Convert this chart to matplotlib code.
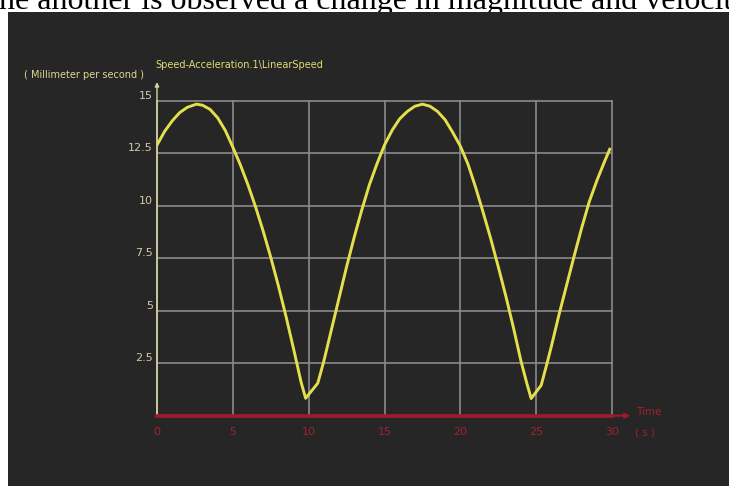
import matplotlib
matplotlib.use("Agg")
import matplotlib.pyplot as plt
from matplotlib.patches import Rectangle
from matplotlib.transforms import ScaledTranslation

# ---- data ----
time_s = [0.0, 0.5, 1.0, 1.5, 2.0, 2.6, 3.0, 3.5, 4.0, 4.5, 5.0, 5.5, 6.0, 6.5,
          7.0, 7.5, 8.0, 8.5, 9.0, 9.5, 9.8, 10.6, 11.0, 11.5, 12.0, 12.5,
          13.0, 13.5, 14.0, 14.5, 15.0, 15.5, 16.0, 16.5, 17.0, 17.5, 18.0,
          18.5, 19.0, 19.5, 20.0, 20.5, 21.0, 21.5, 22.0, 22.5, 23.0, 23.5,
          24.0, 24.4, 24.67, 25.33, 25.7, 26.0, 26.5, 27.0, 27.5, 28.0, 28.5,
          29.0, 29.5, 29.85]
speed_mm_s = [12.9, 13.55, 14.05, 14.45, 14.7, 14.85, 14.8, 14.6, 14.2, 13.6,
              12.8, 11.95, 11.0, 9.95, 8.8, 7.55, 6.2, 4.75, 3.2, 1.6, 0.83,
              1.55, 2.6, 4.1, 5.6, 7.1, 8.5, 9.8, 11.0, 12.0, 12.9, 13.6, 14.15,
              14.5, 14.75, 14.85, 14.75, 14.5, 14.1, 13.5, 12.85, 12.0, 10.9,
              9.7, 8.45, 7.1, 5.7, 4.2, 2.6, 1.5, 0.82, 1.45, 2.45, 3.3, 4.8,
              6.2, 7.6, 8.95, 10.2, 11.2, 12.1, 12.7]
x_ticks = [0, 5, 10, 15, 20, 25, 30]
x_tick_labels = ["0", "5", "10", "15", "20", "25", "30"]
y_ticks = [2.5, 5, 7.5, 10, 12.5, 15]
y_tick_labels = ["2.5", "5", "7.5", "10", "12.5", "15"]
title_text = "Speed-Acceleration.1\\LinearSpeed"
y_label = "( Millimeter per second )"
x_label = "Time"
x_unit = "( s )"
caption = "ne another is observed a change in magnitude and velocit"

W, H = 729, 486
DARK = "#262626"
fig = plt.figure(figsize=(W / 100, H / 100), dpi=100, facecolor="white")

# dark panel of the screenshot
fig.patches.append(Rectangle((8 / W, 0), 1 - 8 / W, 1 - 12 / H,
                             transform=fig.transFigure, facecolor=DARK,
                             edgecolor="none", zorder=-10))

# clipped caption text above the panel (drawn under the panel)
fig.text(-1 / W, 1 - 9.5 / H, caption, family="Liberation Serif",
         fontsize=23, color="black", ha="left", va="baseline", zorder=-20)

x0, x1 = 157, 612
y0, y1 = 415.7, 101
ax = fig.add_axes([x0 / W, 1 - y0 / H, (x1 - x0) / W, (y0 - y1) / H])
ax.set_zorder(1)
ax.set_facecolor(DARK)
ax.set_xlim(0, 30)
ax.set_ylim(0, 15)

ax.set_xticks(x_ticks)
ax.set_xticklabels(x_tick_labels)
ax.set_yticks(y_ticks)
ax.set_yticklabels(y_tick_labels)
ax.tick_params(axis="both", length=0)
ax.tick_params(axis="x", colors="#a3212d", labelsize=8, pad=8)
ax.tick_params(axis="y", colors="#cfcca6", labelsize=8, pad=3)
for lab in ax.get_yticklabels():
    lab.set_transform(lab.get_transform() +
                      ScaledTranslation(0, 6 / 100, fig.dpi_scale_trans))

ax.grid(True, color="#8a8a8a", lw=1.2, clip_on=False)
ax.set_axisbelow(True)

for s in ("top", "right"):
    ax.spines[s].set_visible(False)
ax.spines["left"].set_color("#d8d4a0")
ax.spines["left"].set_linewidth(1.2)
ax.spines["bottom"].set_color("#a3192b")
ax.spines["bottom"].set_linewidth(2.6)
ax.spines["left"].set_zorder(3)
ax.spines["bottom"].set_zorder(4)

ax.plot(time_s, speed_mm_s, color="#e4e04c", lw=2.1, zorder=5,
        solid_joinstyle="round")

# axis arrows
ax.annotate("", xy=(0, 1.06), xytext=(0, 1.0), xycoords="axes fraction",
            arrowprops=dict(arrowstyle="-|>", color="#d8d4a0", lw=1.0,
                            mutation_scale=6, shrinkA=0, shrinkB=0))
ax.annotate("", xy=(1.04, 0), xytext=(1.0, 0), xycoords="axes fraction",
            arrowprops=dict(arrowstyle="-|>", color="#a3192b", lw=1.5,
                            mutation_scale=7, shrinkA=0, shrinkB=0))

ax.text(1.081, 0.012, x_label, transform=ax.transAxes, color="#a3212d",
        fontsize=7.5, ha="center", va="center")
ax.text(1.073, -0.052, x_unit, transform=ax.transAxes, color="#a3212d",
        fontsize=7.5, ha="center", va="center")
ax.text(-0.160, 1.083, y_label, transform=ax.transAxes, color="#dcd894",
        fontsize=7, ha="center", va="center")
ax.text(-0.004, 1.114, title_text, transform=ax.transAxes, color="#e0dc78",
        fontsize=7, ha="left", va="center")

fig.savefig("out.png", dpi=100, facecolor="white")
